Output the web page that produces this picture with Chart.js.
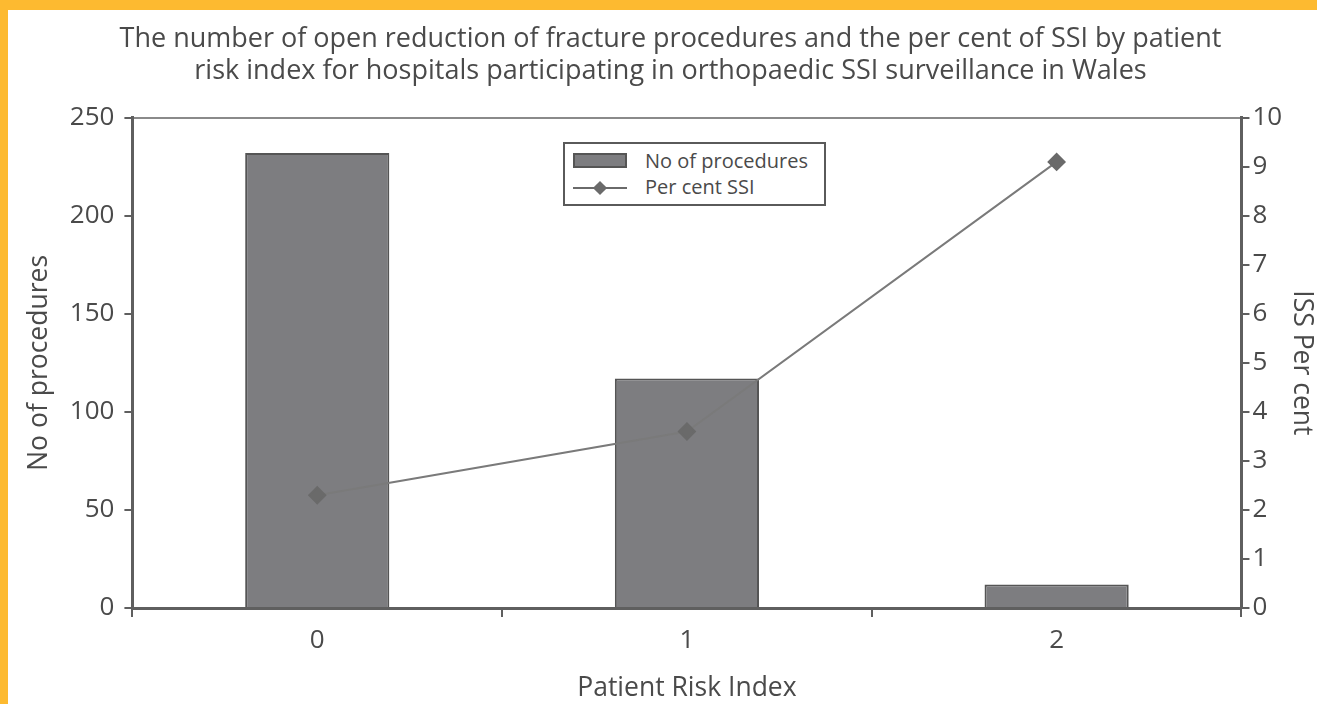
<!DOCTYPE html>
<html>
<head>
<meta charset="utf-8">
<script src="https://cdn.jsdelivr.net/npm/chart.js@4"></script>
<style>
  html, body { margin: 0; padding: 0; }
  body { width: 1317px; height: 704px; background: #fdba30; overflow: hidden; position: relative; font-family: "Open Sans", sans-serif; }
  #wrap { position: absolute; left: 8px; top: 10px; width: 1309px; height: 694px; background: #fff; }
  #legendBox { position: absolute; left: 555px; top: 132px; width: 259px; height: 60px; border: 2px solid #5a5a5a; background: #fff; color: #4a4a4a; font-size: 20px; }
  .item { position: absolute; left: 8px; height: 26px; line-height: 26px; }
  .swatch { position: absolute; left: 0; width: 54px; height: 26px; }
  .lbl { position: absolute; left: 72px; white-space: nowrap; }
</style>
</head>
<body>
<div id="wrap">
  <canvas id="myChart" width="1309" height="694"></canvas>
  <div id="legendBox"></div>
</div>
<script>
var Categories = ['0', '1', '2'];
var Procedures = [232, 117, 12];
var PerCentSSI = [2.3, 3.6, 9.1];
var TitleLines = ['The number of open reduction of fracture procedures and the per cent of SSI by patient',
                  'risk index for hospitals participating in orthopaedic SSI surveillance in Wales'];
var BarLabel = 'No of procedures';
var LineLabel = 'Per cent SSI';

var txt = '#4a4a4a';
var axisCol = '#5f5f5f';
Chart.defaults.font.family = '"Open Sans", sans-serif';
Chart.defaults.color = txt;

//legend in a box inside the plot, like the original
function buildLegend(){
  var box = document.getElementById('legendBox');
  box.innerHTML =
    '<div class="item" style="top:4px"><svg class="swatch" viewBox="0 0 54 26"><rect x="1" y="6" width="52" height="13" fill="#7d7d80" stroke="#555" stroke-width="2"/></svg><span class="lbl">' + BarLabel + '</span></div>' +
    '<div class="item" style="top:30px"><svg class="swatch" viewBox="0 0 54 26"><line x1="0" y1="14" x2="54" y2="14" stroke="#6a6a6a" stroke-width="2"/><rect x="22" y="9" width="10" height="10" fill="#6a6a6a" transform="rotate(45 27 14)"/></svg><span class="lbl">' + LineLabel + '</span></div>';
}
buildLegend();

var ctx = document.getElementById('myChart');
const config = {
  type: 'bar',
  data: {
    labels: Categories,
    datasets: [
      {
        type: 'line',
        label: LineLabel,
        data: PerCentSSI,
        yAxisID: 'y1',
        borderColor: '#7a7a7a',
        borderWidth: 2,
        pointStyle: 'rectRot',
        pointRadius: 8,
        pointBackgroundColor: '#6a6a6a',
        pointBorderColor: '#6a6a6a',
        tension: 0,
        order: 0
      },
      {
        label: BarLabel,
        data: Procedures,
        yAxisID: 'y',
        backgroundColor: '#7d7d80',
        borderColor: '#555',
        borderWidth: 2,
        barPercentage: 0.39,
        categoryPercentage: 1,
        order: 1
      }
    ]
  },
  options: {
    responsive: false,
    animation: false,
    layout: { padding: { left: 16, right: 0, top: 6, bottom: 0 } },
    plugins: {
      legend: { display: false },
      tooltip: { enabled: false },
      title: {
        display: true,
        text: TitleLines,
        color: txt,
        font: { size: 27, weight: 'normal' },
        lineHeight: 1.28,
        padding: { top: 7, bottom: 30 }
      }
    },
    scales: {
      x: {
        offset: true,
        grid: { display: true, drawOnChartArea: false, offset: true, tickLength: 9, tickColor: axisCol, lineWidth: 2 },
        border: { color: axisCol, width: 3 },
        ticks: { font: { size: 26 }, color: txt, padding: 8 },
        title: { display: true, text: 'Patient Risk Index', font: { size: 26.5 }, color: txt, padding: { top: 8, bottom: 0 } }
      },
      xTop: {
        type: 'category',
        position: 'top',
        labels: Categories,
        offset: true,
        grid: { display: false, drawTicks: false },
        border: { color: '#8a8a8a', width: 2 },
        ticks: { display: false, padding: 0 }
      },
      y: {
        position: 'left',
        min: 0,
        max: 250,
        ticks: { stepSize: 50, font: { size: 26 }, color: txt, padding: 10 },
        grid: { drawOnChartArea: false, tickLength: 8, tickColor: axisCol, lineWidth: 2 },
        border: { color: axisCol, width: 3 },
        title: { display: true, text: 'No of procedures', font: { size: 26.5 }, color: txt, padding: { top: 0, bottom: 4 } }
      },
      y1: {
        position: 'right',
        min: 0,
        max: 10,
        ticks: { stepSize: 1, font: { size: 26 }, color: txt, padding: 3 },
        grid: { drawOnChartArea: false, tickLength: 8, tickColor: axisCol, lineWidth: 2 },
        border: { color: axisCol, width: 3 },
        title: { display: true, text: 'ISS Per cent', font: { size: 26.5 }, color: txt, padding: { top: 0, bottom: 0 } }
      }
    }
  }
};

var chart = new Chart(ctx, config);
</script>
</body>
</html>
